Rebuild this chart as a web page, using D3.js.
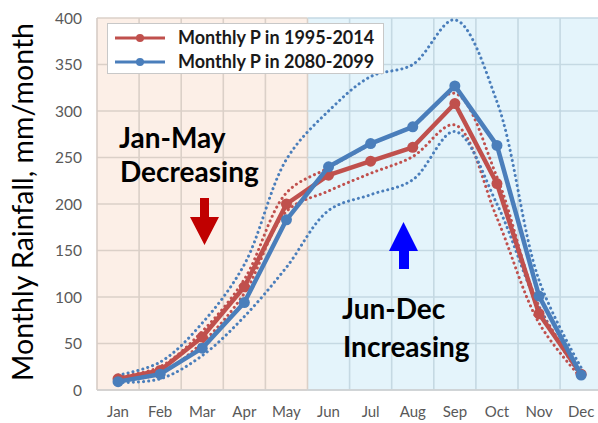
<!DOCTYPE html>
<html>
<head>
<meta charset="utf-8">
<script src="https://cdn.jsdelivr.net/npm/d3@7/dist/d3.min.js"></script>
<style>
  html, body { margin: 0; padding: 0; background: #fff; }
  svg { display: block; }
  text { font-family: Lato, "Open Sans", sans-serif; }
</style>
</head>
<body>
<svg id="chart" width="598" height="423"></svg>
<script>
// ---- data ----
const months = ["Jan","Feb","Mar","Apr","May","Jun","Jul","Aug","Sep","Oct","Nov","Dec"];
const hist = [12, 21, 57, 111, 200, 231, 246, 261, 308, 222, 82, 17];      // Monthly P 1995-2014
const fut  = [9, 17, 45, 94, 183, 240, 265, 283, 327, 263, 101, 16];       // Monthly P 2080-2099
const histHigh = [14, 25, 63, 119, 212, 239, 264, 284, 319, 229, 90, 19];
const histLow  = [10, 18, 51, 104, 192, 214, 233, 251, 285, 185, 72, 13];
const futHigh  = [16, 30, 72, 135, 248, 300, 337, 350, 398, 310, 118, 24];
const futLow   = [8, 12, 37, 79, 132, 193, 210, 226, 278, 200, 88, 14];
const yTicks = [0, 50, 100, 150, 200, 250, 300, 350, 400];
const legendLabels = ["Monthly P in 1995-2014", "Monthly P in 2080-2099"];
const decMonths = ["Jan","Feb","Mar","Apr","May"];
const incMonths = ["Jun","Jul","Aug","Sep","Oct","Nov","Dec"];

const RED = "#c0504d", BLUE = "#4a7ebb";

const svg = d3.select("#chart");
const x = d3.scaleBand().domain(months).range([97, 97 + 42.1 * 12]).padding(0);
const y = d3.scaleLinear().domain([0, 400]).range([390, 18]);
const cx = m => x(m) + x.bandwidth() / 2;

// background regions
svg.append("rect").attr("x", x("Jan")).attr("y", y(400))
  .attr("width", x("Jun") - x("Jan")).attr("height", y(0) - y(400)).attr("fill", "#fcefe7");
svg.append("rect").attr("x", x("Jun")).attr("y", y(400))
  .attr("width", x("Dec") + x.bandwidth() - x("Jun")).attr("height", y(0) - y(400)).attr("fill", "#e4f4fb");

// grid per region
function grid(list, color) {
  const x0 = x(list[0]), x1 = x(list[list.length - 1]) + x.bandwidth();
  const g = svg.append("g");
  g.selectAll("line.h").data(yTicks).join("line")
    .attr("x1", x0).attr("x2", x1).attr("y1", d => y(d)).attr("y2", d => y(d))
    .attr("stroke", color).attr("stroke-width", 1.6);
  g.selectAll("line.v").data(list).join("line")
    .attr("x1", d => x(d) + x.bandwidth()).attr("x2", d => x(d) + x.bandwidth())
    .attr("y1", y(400)).attr("y2", y(0))
    .attr("stroke", color).attr("stroke-width", 1.6);
}
grid(decMonths, "#dbd0c8");
grid(incMonths, "#c5d9e3");
svg.append("line").attr("x1", x("Jan")).attr("x2", x("Jan")).attr("y1", y(400)).attr("y2", y(0))
  .attr("stroke", "#d6ccc6").attr("stroke-width", 1.6);
svg.append("line").attr("x1", x("Jan")).attr("x2", 598).attr("y1", y(0)).attr("y2", y(0))
  .attr("stroke", "#d0d0d0").attr("stroke-width", 1.6);

// axes labels
const yAxis = d3.axisLeft(y).tickValues(yTicks).tickSize(0).tickPadding(0);
const gy = svg.append("g").attr("transform", "translate(82,0)").call(yAxis);
gy.select(".domain").remove();
gy.selectAll("text").attr("fill", "#595959").style("font-size", "15.5px").attr("dy", "0.35em");

const xAxis = d3.axisBottom(x).tickSize(0).tickPadding(0);
const gx = svg.append("g").attr("transform", "translate(0,406)").call(xAxis);
gx.select(".domain").remove();
gx.selectAll("text").attr("fill", "#595959").style("font-size", "15px").attr("dy", "0.71em");

svg.append("text").attr("transform", "translate(33,202) rotate(-90)")
  .attr("text-anchor", "middle").style("font-size", "28.5px").attr("fill", "#000")
  .text("Monthly Rainfall, mm/month");

// dotted range lines
const smooth = d3.line().x((d, i) => cx(months[i])).y(d => y(d)).curve(d3.curveCatmullRom.alpha(0.5));
[[histHigh, RED], [histLow, RED], [futHigh, BLUE], [futLow, BLUE]].forEach(([arr, c]) => {
  svg.append("path").attr("d", smooth(arr)).attr("fill", "none").attr("stroke", c)
    .attr("stroke-width", 3).attr("stroke-linecap", "round").attr("stroke-dasharray", "0.1 5");
});

// main lines
const lin = d3.line().x((d, i) => cx(months[i])).y(d => y(d));
[[hist, RED], [fut, BLUE]].forEach(([arr, c]) => {
  svg.append("path").attr("d", lin(arr)).attr("fill", "none").attr("stroke", c)
    .attr("stroke-width", 4.5).attr("stroke-linejoin", "round");
  svg.append("g").selectAll("circle").data(arr).join("circle")
    .attr("cx", (d, i) => cx(months[i])).attr("cy", d => y(d)).attr("r", 5.5).attr("fill", c);
});

// annotations
svg.append("text").attr("x", 119).attr("y", 148).style("font-size", "28px").style("font-weight", 700).text("Jan-May");
svg.append("text").attr("x", 120).attr("y", 182).style("font-size", "28px").style("font-weight", 700).text("Decreasing");
svg.append("text").attr("x", 342).attr("y", 319).style("font-size", "28px").style("font-weight", 700).text("Jun-Dec");
svg.append("text").attr("x", 343).attr("y", 357).style("font-size", "28px").style("font-weight", 700).text("Increasing");

// arrows
svg.append("path").attr("fill", "#c00000")
  .attr("d", "M200,198 L209,198 L209,217 L219,217 L204.5,245 L190,217 L200,217 Z");
svg.append("path").attr("fill", "#0000ff")
  .attr("d", "M403.5,222 L418,251 L409,251 L409,269 L399,269 L399,251 L389,251 Z");

// legend
const lg = svg.append("g");
lg.append("rect").attr("x", 107.5).attr("y", 23.5).attr("width", 276).attr("height", 50)
  .attr("fill", "#fff").attr("stroke", "#c8c8c8");
[[RED, 38], [BLUE, 62]].forEach(([c, yy], i) => {
  lg.append("line").attr("x1", 115).attr("x2", 165).attr("y1", yy).attr("y2", yy)
    .attr("stroke", c).attr("stroke-width", 3);
  lg.append("circle").attr("cx", 140).attr("cy", yy).attr("r", 4).attr("fill", c);
  lg.append("text").attr("x", 178).attr("y", yy + 6).style("font-size", "18px").style("font-weight", 700)
    .attr("fill", "#1a1a1a").text(legendLabels[i]);
});
</script>
</body>
</html>
